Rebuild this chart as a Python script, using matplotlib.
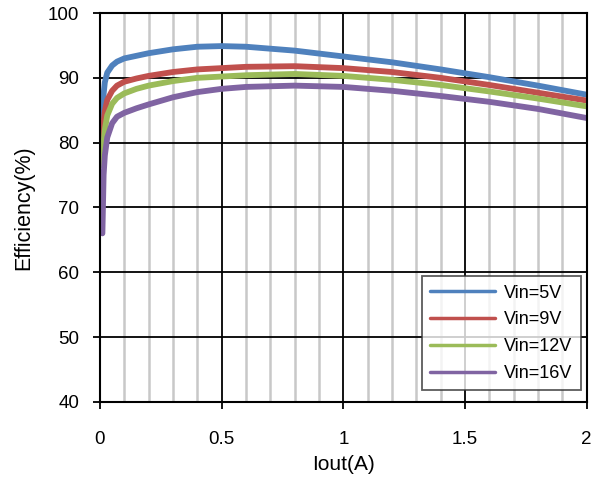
import matplotlib.pyplot as plt
import numpy as np

plt.rcParams['font.family'] = ['Liberation Sans', 'DejaVu Sans']

iout = [0.01, 0.015, 0.02, 0.03, 0.05, 0.07, 0.1, 0.15, 0.2, 0.3, 0.4, 0.5, 0.6,
        0.8, 1.0, 1.2, 1.4, 1.6, 1.8, 2.0]

eff_5v = [84.0, 87.5, 89.3, 90.8, 91.9, 92.5, 93.0, 93.4, 93.8, 94.4, 94.8, 94.9, 94.8,
          94.2, 93.3, 92.4, 91.3, 90.1, 88.8, 87.4]
eff_9v = [79.5, 83.0, 84.8, 86.6, 88.0, 88.8, 89.4, 89.9, 90.3, 90.9, 91.3, 91.5, 91.7,
          91.8, 91.5, 90.9, 90.0, 88.9, 87.7, 86.5]
eff_12v = [76.5, 80.0, 82.0, 84.2, 86.0, 86.9, 87.6, 88.3, 88.8, 89.5, 90.0, 90.2, 90.4,
           90.6, 90.3, 89.7, 88.9, 87.9, 86.8, 85.6]
eff_16v = [66.0, 75.0, 78.0, 80.8, 83.0, 84.0, 84.6, 85.3, 85.9, 87.0, 87.8, 88.3, 88.6,
           88.8, 88.6, 88.0, 87.2, 86.3, 85.2, 83.8]

labels = ['Vin=5V', 'Vin=9V', 'Vin=12V', 'Vin=16V']
colors = ['#4F81BD', '#C0504D', '#9BBB59', '#8064A2']

fig = plt.figure(figsize=(5.95, 4.83), dpi=100)
ax = fig.add_axes([0.168, 0.168, 0.818, 0.805])

for y, lab, c in zip([eff_5v, eff_9v, eff_12v, eff_16v], labels, colors):
    ax.plot(iout, y, color=c, lw=4.2, label=lab, solid_capstyle='round')

ax.set_xlim(0, 2)
ax.set_ylim(40, 100)
ax.set_xticks([0, 0.5, 1, 1.5, 2])
ax.set_xticklabels(['0', '0.5', '1', '1.5', '2'])
ax.set_yticks(np.arange(40, 101, 10))
ax.set_xticks(np.arange(0, 2.01, 0.1), minor=True)
ax.grid(which='minor', axis='x', color='#C8C8C8', lw=1.8, zorder=0)
ax.grid(which='major', color='black', lw=1.3, zorder=0.5)
ax.set_axisbelow(True)
ax.tick_params(which='minor', length=0)
ax.tick_params(which='major', direction='out', length=5, width=1.3,
               labelsize=13.5, colors='black')
ax.tick_params(axis='x', pad=16)
ax.tick_params(axis='y', pad=10)
for s in ax.spines.values():
    s.set_linewidth(1.5)

ax.set_xlabel('Iout(A)', fontsize=15, labelpad=5)
ax.set_ylabel('Efficiency(%)', fontsize=15.5, labelpad=10)

leg = ax.legend(loc='lower right', bbox_to_anchor=(0.995, 0.02), fontsize=13,
                frameon=True, fancybox=False, edgecolor='#333333',
                handlelength=3.6, labelspacing=0.55, borderpad=0.45, handletextpad=0.5,
                borderaxespad=0.2)
leg.get_frame().set_linewidth(1.3)
for line in leg.get_lines():
    line.set_linewidth(2.5)

plt.savefig('out.png', dpi=100)
